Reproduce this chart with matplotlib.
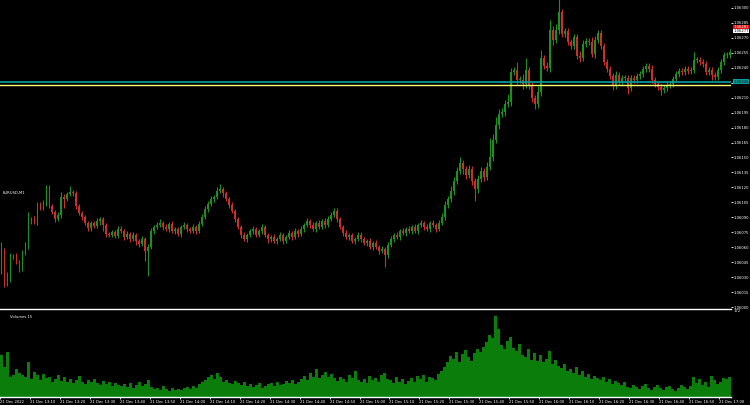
import matplotlib
matplotlib.use("Agg")
import matplotlib.pyplot as plt
import numpy as np

# price in points (0.00001) above 1.06000, one candle per minute
closes = [57, 32, 28, 50, 51, 45, 38, 54, 61, 86,
          88, 85, 103, 99, 104, 108, 101, 95, 88, 92,
          110, 108, 113, 115, 114, 101, 94, 90, 84, 79,
          84, 81, 86, 88, 82, 73, 72, 75, 71, 78,
          76, 70, 73, 68, 72, 66, 63, 68, 56, 60,
          76, 80, 82, 84, 80, 78, 83, 76, 78, 73,
          80, 82, 78, 76, 80, 76, 83, 90, 98, 103,
          108, 110, 116, 118, 114, 108, 102, 96, 88, 80,
          72, 68, 72, 76, 78, 72, 76, 80, 72, 68,
          70, 66, 68, 72, 66, 70, 74, 70, 76, 73,
          78, 82, 86, 82, 78, 84, 80, 86, 82, 88,
          92, 96, 88, 80, 74, 70, 72, 66, 68, 72,
          68, 64, 66, 60, 64, 60, 56, 58, 52, 62,
          68, 72, 70, 76, 74, 78, 76, 80, 76, 82,
          84, 80, 78, 84, 82, 78, 84, 90, 102, 108,
          116, 126, 136, 144, 138, 132, 138, 126, 118, 128,
          136, 130, 140, 150, 168, 183, 194, 196, 204, 206,
          236, 238, 228, 228, 224, 238, 222, 210, 204, 216,
          250, 242, 240, 278, 268, 278, 296, 274, 277, 266,
          262, 271, 252, 250, 264, 267, 266, 254, 268, 275,
          262, 246, 239, 232, 222, 233, 226, 230, 230, 220,
          230, 228, 232, 234, 239, 242, 239, 228, 224, 221,
          218, 220, 223, 224, 229, 234, 237, 236, 239, 237,
          238, 248, 248, 246, 244, 236, 238, 233, 231, 238,
          246, 253, 253, 256]
first_open = 36

wick_hi = [8, 2, 3, 4, 2, 3, 2, 3, 4, 9,
           2, 3, 2, 2, 3, 14, 14, 2, 2, 3,
           5, 3, 2, 6, 2, 2, 2, 2, 2, 2,
           2, 2, 3, 2, 2, 2, 2, 2, 2, 3,
           3, 2, 3, 2, 3, 2, 2, 3, 2, 3,
           3, 2, 3, 4, 2, 3, 2, 3, 2, 2,
           2, 3, 2, 2, 3, 2, 3, 3, 3, 3,
           3, 2, 4, 5, 2, 2, 2, 3, 2, 2,
           2, 3, 2, 2, 3, 2, 2, 3, 2, 2,
           2, 3, 2, 3, 2, 2, 3, 2, 3, 2,
           3, 2, 3, 2, 3, 2, 3, 2, 3, 3,
           3, 3, 3, 2, 2, 3, 2, 2, 2, 3,
           3, 2, 2, 3, 2, 3, 2, 3, 2, 3,
           3, 2, 3, 2, 3, 2, 3, 2, 3, 2,
           3, 2, 3, 2, 3, 2, 3, 4, 4, 3,
           5, 4, 4, 6, 3, 3, 4, 3, 3, 4,
           4, 3, 5, 20, 6, 8, 5, 4, 4, 8,
           4, 3, 8, 4, 6, 12, 3, 4, 3, 6,
           8, 3, 4, 10, 4, 6, 14, 3, 3, 3,
           3, 3, 3, 5, 4, 3, 3, 5, 4, 3,
           3, 3, 3, 3, 3, 4, 3, 3, 3, 3,
           3, 3, 3, 3, 3, 3, 3, 4, 3, 3,
           3, 3, 3, 3, 3, 3, 3, 3, 3, 3,
           3, 8, 3, 3, 3, 3, 3, 3, 3, 3,
           3, 3, 3, 3]

wick_lo = [3, 12, 7, 3, 2, 2, 3, 2, 2, 3,
           3, 2, 3, 2, 2, 3, 2, 2, 3, 2,
           3, 9, 2, 2, 3, 3, 2, 3, 2, 3,
           3, 2, 2, 4, 6, 3, 2, 2, 2, 2,
           2, 3, 2, 3, 2, 4, 3, 2, 10, 25,
           2, 3, 2, 2, 3, 2, 3, 2, 3, 2,
           3, 2, 3, 2, 2, 3, 2, 2, 2, 3,
           2, 3, 2, 2, 4, 2, 3, 2, 3, 2,
           3, 2, 3, 2, 3, 2, 2, 3, 2, 4,
           3, 2, 3, 2, 3, 2, 2, 3, 2, 3,
           2, 3, 2, 3, 2, 3, 2, 2, 3, 2,
           2, 2, 3, 2, 3, 2, 3, 2, 3, 2,
           3, 2, 3, 2, 3, 2, 3, 2, 12, 3,
           2, 3, 2, 3, 2, 3, 2, 3, 2, 3,
           2, 3, 2, 3, 2, 3, 2, 2, 3, 3,
           3, 4, 3, 3, 5, 4, 3, 4, 12, 4,
           3, 4, 3, 3, 4, 3, 4, 3, 4, 3,
           4, 3, 4, 3, 5, 4, 3, 4, 5, 4,
           4, 3, 3, 4, 5, 3, 4, 3, 3, 3,
           3, 3, 3, 4, 3, 3, 3, 3, 4, 3,
           3, 3, 3, 3, 4, 3, 3, 3, 4, 6,
           3, 3, 3, 3, 3, 3, 3, 3, 3, 3,
           5, 3, 3, 3, 3, 3, 3, 3, 3, 3,
           3, 3, 3, 3, 3, 3, 3, 5, 3, 3,
           3, 3, 3, 3]

volumes = [84, 60, 90, 40, 44, 56, 48, 44, 40, 70,
           36, 50, 44, 34, 46, 38, 40, 30, 36, 44,
           32, 40, 30, 36, 28, 34, 42, 30, 26, 34,
           30, 36, 28, 24, 32, 26, 30, 22, 28, 24,
           22, 26, 20, 28, 18, 24, 30, 22, 26, 34,
           20, 16, 18, 14, 22, 16, 12, 18, 14, 16,
           14, 18, 20, 16, 22, 18, 26, 30, 34, 40,
           44, 36, 48, 40, 30, 34, 28, 26, 32, 28,
           24, 30, 22, 26, 20, 24, 28, 18, 22, 26,
           28, 22, 30, 24, 26, 32, 28, 34, 26, 30,
           36, 42, 34, 48, 40, 56, 38, 44, 50, 40,
           46, 38, 32, 40, 36, 30, 44, 38, 52, 34,
           30, 36, 28, 42, 34, 38, 30, 44, 48, 36,
           34, 28, 40, 30, 36, 26, 32, 38, 30, 42,
           36, 44, 30, 40, 38, 34, 46, 52, 60, 70,
           82, 76, 90, 70, 86, 94, 80, 72, 88, 96,
           90, 100, 110, 124, 118, 162, 136, 104, 96, 112,
           120, 98, 92, 106, 84, 80, 96, 74, 88, 72,
           84, 70, 76, 92, 66, 74, 62, 58, 66, 52,
           56, 48, 60, 44, 52, 40, 46, 36, 42, 38,
           34, 40, 30, 36, 26, 32, 28, 24, 30, 20,
           18, 24, 20, 16, 22, 26, 18, 14, 20, 24,
           18, 14, 20, 22, 16, 12, 18, 24, 20, 16,
           22, 40, 28, 36, 24, 30, 20, 42, 34, 26,
           30, 38, 36, 40]

time_labels = ["21 Dec 2022", "21 Dec 13:10", "21 Dec 13:20", "21 Dec 13:30", "21 Dec 13:40",
               "21 Dec 13:50", "21 Dec 14:00", "21 Dec 14:10", "21 Dec 14:20", "21 Dec 14:30",
               "21 Dec 14:40", "21 Dec 14:50", "21 Dec 15:00", "21 Dec 15:10", "21 Dec 15:20",
               "21 Dec 15:30", "21 Dec 15:40", "21 Dec 15:50", "21 Dec 16:00", "21 Dec 16:10",
               "21 Dec 16:20", "21 Dec 16:30", "21 Dec 16:40", "21 Dec 16:50", "21 Dec 17:00"]

base = 1.06000
line_teal = 226
line_yellow = 223
ask_level = 281
bid_level = 277

up_col = "#1f8f1f"
dn_col = "#c8302e"
vol_col = "#0b7d0b"
fs = 2.7

n = len(closes)
idx = np.arange(n)
c = np.array(closes)
o = np.concatenate([[first_open], c[:-1]])
hi = np.maximum(o, c) + np.array(wick_hi)
lo = np.minimum(o, c) - np.array(wick_lo)
cols = [up_col if cc >= oo else dn_col for oo, cc in zip(o, c)]

fig = plt.figure(figsize=(7.5, 4.05), dpi=100, facecolor="black")
ax = fig.add_axes([0, 1 - 309 / 405, 731 / 750, 309 / 405], facecolor="black")
axv = fig.add_axes([0, 1 - 397 / 405, 731 / 750, 86 / 405], facecolor="black", sharex=ax)

ax.vlines(idx, lo, hi, colors=cols, linewidth=0.8)
body = np.maximum(np.abs(c - o), 1)
ax.bar(idx, body, bottom=np.minimum(o, c), width=0.62, color=cols, linewidth=0)

ax.axhline(line_teal, color="#00a0a0", linewidth=1.2)
ax.axhline(line_yellow, color="#ffff70", linewidth=1.0)

ax.set_xlim(-0.5, n - 0.5)
ax.set_ylim(-2, 308)
ticks = np.arange(0, 301, 15)
ax.yaxis.tick_right()
ax.set_yticks(ticks)
ax.set_yticklabels([f"{base + t * 1e-5:.5f}" for t in ticks])
ax.tick_params(axis="y", colors="white", labelsize=fs, length=1.2, width=0.6, pad=0.8)
ax.tick_params(axis="x", bottom=False, labelbottom=False)
for s in ["top", "left", "right"]:
    ax.spines[s].set_visible(False)
ax.spines["bottom"].set_color("white")
ax.spines["bottom"].set_linewidth(1.0)

ax.text(3 / 731, 1 - 193 / 309, "EURUSD,M1", transform=ax.transAxes,
        color="white", fontsize=fs, va="center", ha="left")

# level labels on the price scale
lev = ax.get_yaxis_transform()
for level, fc, tc in [(line_teal, "#00a0a0", "black"),
                      (ask_level, "#e01010", "white"),
                      (bid_level, "white", "black")]:
    ax.text(1.003, level, f"{base + level * 1e-5:.5f}", transform=lev,
            color=tc, fontsize=fs, va="center", ha="left",
            bbox=dict(boxstyle="square,pad=0.1", fc=fc, ec="none"), clip_on=False)

# volumes
axv.bar(idx, volumes, width=1.0, color=vol_col, linewidth=0)
axv.set_ylim(0, 172)
axv.yaxis.tick_right()
axv.set_yticks([172])
axv.set_yticklabels(["172"])
axv.tick_params(axis="y", colors="white", labelsize=fs, length=0, pad=2)
axv.text(3, 160, "Volumes 15", color="white", fontsize=fs, va="center", ha="left")
for s in ["top", "left", "right"]:
    axv.spines[s].set_visible(False)
axv.spines["bottom"].set_color("white")
axv.spines["bottom"].set_linewidth(1.0)
tick_pos = np.arange(0, n, 10)[:len(time_labels)]
axv.set_xticks(tick_pos - 0.5)
axv.set_xticklabels(time_labels[:len(tick_pos)], ha="left")
axv.tick_params(axis="x", colors="white", labelsize=2.7, length=1.5, width=0.6, pad=0.5)

fig.savefig("out.png", dpi=100, facecolor="black")
